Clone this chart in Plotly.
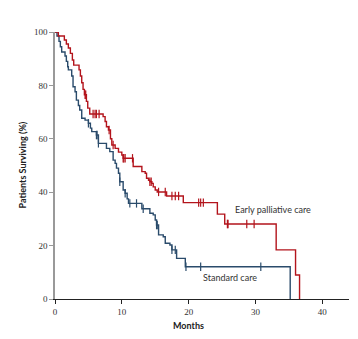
import plotly.graph_objects as go

# Early palliative care: step times (months) and survival (%) after each step
epc_t = [0, 0.5, 1.4, 1.7, 2.0, 2.3, 2.6, 2.8, 3.6, 3.8, 4.0, 4.2, 4.4, 4.7, 4.9, 5.2,
         7.2, 7.5, 7.7, 8.0, 8.3, 8.5, 9.0, 9.5, 10.0, 10.2, 11.7, 13.0, 13.5, 13.7,
         14.0, 14.2, 14.5, 14.7, 15.0, 15.3, 16.7, 19.2, 24.3, 25.4, 33.1, 36.0, 36.6]
epc_s = [100, 98.5, 97, 95.5, 94, 92, 89.5, 87.6, 85.8, 83.5, 81, 78.5, 76.5, 74, 71.5, 69.3,
         68.3, 66.5, 64.5, 63.3, 60, 57.7, 56.4, 55, 53.9, 52.7, 49.6, 47.7, 47.1, 45.2,
         44.5, 43.9, 43.3, 42, 40.8, 40.1, 38.6, 36.1, 31.8, 28.1, 18.4, 9.0, 0]
epc_cens = [4.5, 4.6, 5.7, 6.0, 6.2, 6.6, 8.1, 8.7, 10.2, 10.3, 10.5, 11.6, 14.2, 14.4,
            15.5, 16.5, 17.5, 18.0, 18.5, 21.5, 21.8, 22.2, 25.8, 25.9, 28.7, 29.8]

# Standard care
std_t = [0, 0.3, 0.6, 0.8, 1.0, 1.5, 1.7, 1.9, 2.0, 2.5, 2.7, 3.0, 3.2, 3.5, 3.7, 4.0,
         4.5, 5.0, 5.3, 5.5, 6.2, 6.5, 7.7, 8.2, 8.7, 9.0, 9.2, 9.5, 9.7, 10.2, 10.5,
         10.8, 11.0, 13.0, 14.2, 14.7, 15.0, 15.2, 15.5, 16.2, 16.5, 17.2, 17.5, 18.2,
         19.5, 35.2]
std_s = [100, 98.5, 96.5, 94.5, 92.5, 91, 89, 87, 85.8, 83.5, 79.5, 77.6, 74.5, 72.5, 70.8, 67.7,
         67, 65.8, 64, 62.7, 61.4, 58.3, 56.4, 55.2, 52, 50.8, 49, 47.1, 43.9, 40.8, 39.6,
         37.5, 35.8, 33.8, 32.1, 31.5, 29.6, 27.7, 24, 23.3, 20.9, 20.2, 18.4, 15.2,
         12.1, 0]
std_cens = [5.0, 6.2, 6.3, 6.5, 9.7, 10.5, 11.2, 12.2, 13.2, 15.2, 15.3, 17.5, 18.0, 19.6, 21.8, 30.8]

x_ticks = [0, 10, 20, 30, 40]
y_ticks = [0, 20, 40, 60, 80, 100]

RED = "#b3141c"
BLUE = "#2a4b6b"


def step_at(ts, ss, t):
    val = ss[0]
    for ti, si in zip(ts, ss):
        if ti <= t:
            val = si
        else:
            break
    return val


fig = go.Figure()
for ts, ss, cens, col in [(std_t, std_s, std_cens, BLUE), (epc_t, epc_s, epc_cens, RED)]:
    fig.add_trace(go.Scatter(x=ts, y=ss, mode="lines", line=dict(color=col, width=1.4, shape="hv"),
                             hoverinfo="skip", cliponaxis=False))
    fig.add_trace(go.Scatter(x=cens, y=[step_at(ts, ss, c) for c in cens], mode="markers",
                             marker=dict(symbol="line-ns", size=6, line=dict(color=col, width=1.2)),
                             hoverinfo="skip", cliponaxis=False))

fig.add_annotation(x=26.6, y=33.7, text="Early palliative care", showarrow=False, xanchor="left",
                   font=dict(family="Lato", size=9, color="#333"))
fig.add_annotation(x=21.8, y=8.0, text="Standard care", showarrow=False, xanchor="left",
                   font=dict(family="Lato", size=9, color="#333"))

fig.add_annotation(xref="paper", yref="paper", x=0, y=0.5, xshift=-33, text="<b>Patients Surviving (%)</b>",
                   showarrow=False, textangle=-90, font=dict(family="Lato", size=9, color="#222"),
                   xanchor="center", yanchor="middle")
fig.add_annotation(xref="paper", yref="paper", x=0.455, y=0, yshift=-26, text="<b>Months</b>",
                   showarrow=False, font=dict(family="Lato", size=9, color="#222"),
                   xanchor="center", yanchor="middle")

fig.update_layout(
    width=358, height=339,
    margin=dict(l=55, r=9, t=32, b=40),
    paper_bgcolor="white", plot_bgcolor="white",
    showlegend=False,
)
fig.update_xaxes(range=[0, 44], tickvals=x_ticks, ticks="outside", ticklen=4, tickcolor="#222",
                 showline=True, linecolor="#222", linewidth=1.2, showgrid=False, zeroline=False,
                 tickfont=dict(family="Liberation Serif", size=9, color="#333"))
fig.update_yaxes(range=[0, 100], tickvals=y_ticks, ticks="outside", ticklen=4, tickcolor="#999",
                 showline=True, linecolor="#999", linewidth=1.5, showgrid=False, zeroline=False,
                 tickfont=dict(family="Liberation Serif", size=9, color="#333"))

fig.write_html("out.html")
